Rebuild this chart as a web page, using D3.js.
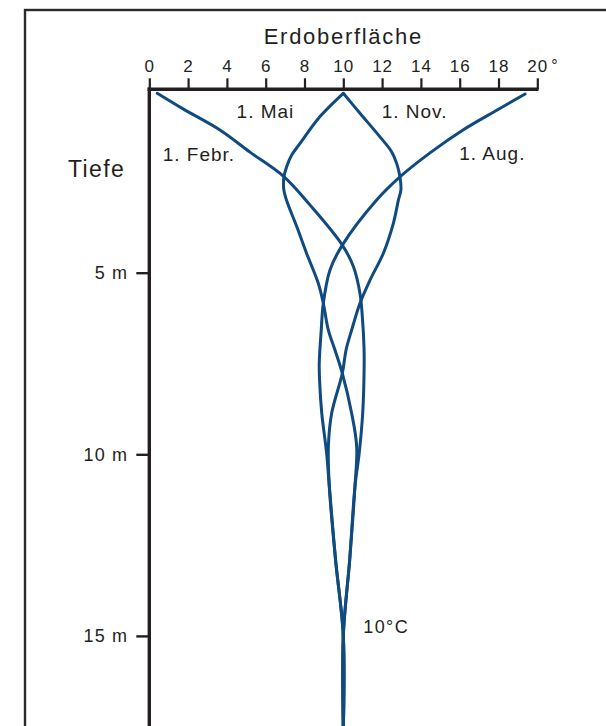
<!DOCTYPE html>
<html>
<head>
<meta charset="utf-8">
<script src="https://cdn.jsdelivr.net/npm/d3@7"></script>
<style>
  html, body { margin: 0; padding: 0; background: #fff; overflow: hidden; }
  svg { display: block; }
  text { font-family: "Liberation Sans", Arial, Helvetica, sans-serif; fill: #231f20; }
</style>
</head>
<body>
<svg id="chart" width="606" height="726"></svg>
<script>
// Temperature (°C) and depth (m) profiles of the ground on four dates
const tempTicks = [0, 2, 4, 6, 8, 10, 12, 14, 16, 18, 20];
const depthTicks = [5, 10, 15];

// [temperature, depth]
const profileFeb = [
  [0.41, 0.06], [1.74, 0.49], [3.64, 1.07], [5.19, 1.68], [6.95, 2.36],
  [8.29, 3.14], [9.95, 4.24], [10.52, 4.83], [10.86, 5.57], [10.98, 6.2],
  [11.07, 7.1], [11.07, 7.77], [11.0, 8.87], [10.82, 9.97], [10.6, 10.89], [10.33, 12.9],
  [10.0, 15.0], [10.0, 17.6]
];
const profileAug = [
  [19.37, 0.08], [17.93, 0.52], [16.17, 1.07], [14.47, 1.70], [12.92, 2.36],
  [11.73, 2.99], [9.95, 4.24], [9.31, 4.93], [8.97, 5.84], [8.86, 6.6],
  [8.76, 7.5], [8.78, 8.0], [8.89, 8.87], [9.14, 9.97], [9.28, 10.89], [9.6, 12.9],
  [10.0, 15.0], [10.0, 17.6]
];
const profileMai = [
  [10.0, 0.06], [8.80, 0.70], [7.77, 1.44], [7.34, 1.76], [7.08, 2.08], [6.94, 2.36],
  [6.93, 2.7], [7.07, 3.0], [7.60, 3.73], [8.11, 4.47], [8.71, 5.29], [8.97, 5.84],
  [9.23, 6.58], [9.57, 7.13], [9.95, 7.77], [10.43, 8.87], [10.69, 9.79], [10.6, 10.89],
  [10.33, 12.9], [10.0, 15.0], [10.0, 17.6]
];
const profileNov = [
  [10.0, 0.06], [10.86, 0.61], [11.89, 1.26], [12.49, 1.67], [12.75, 1.99], [12.92, 2.36],
  [12.97, 2.72], [12.84, 3.0], [12.58, 3.64], [12.06, 4.47], [11.38, 5.2], [10.86, 5.84],
  [10.43, 6.58], [10.14, 7.13], [9.95, 7.77], [9.40, 8.87], [9.23, 9.79], [9.28, 10.89],
  [9.6, 12.9], [10.0, 15.0], [10.0, 17.6]
];

const dateLabels = ["1. Febr.", "1. Mai", "1. Nov.", "1. Aug."];
const dateLabelTemps = [0.69, 4.5, 11.98, 15.98];
const dateLabelDepths = [1.92, 0.75, 0.75, 1.90];

const deepTempLabel = "10°C";
const deepTempPos = [11.03, 14.91];

const svg = d3.select("#chart");

// Scales: temperature across the top, depth downward
const x = d3.scaleLinear().domain([0, 20]).range([149.3, 537.3]);
const y = d3.scaleLinear().domain([0, 15]).range([91.1, 635.9]);

const ink = "#231f20";
const curveColor = "#0f4a80";

// Outer frame
svg.append("rect")
  .attr("x", 25).attr("y", 10)
  .attr("width", 640).attr("height", 760)
  .attr("fill", "none").attr("stroke", "#2a2a2a").attr("stroke-width", 2.4);

// Top temperature axis
const axisTop = svg.append("g").attr("transform", `translate(0,${y(0) - 1.8})`);
axisTop.call(d3.axisTop(x).tickValues(tempTicks).tickSize(11).tickPadding(6).tickFormat(d3.format("d")));
axisTop.select(".domain").remove();
axisTop.selectAll(".tick line").attr("stroke", ink).attr("stroke-width", 2.2);
axisTop.selectAll(".tick text")
  .attr("fill", ink).attr("font-size", 17).style("letter-spacing", "1px")
  .attr("font-family", null);
axisTop.attr("font-size", 17);
axisTop.append("line")
  .attr("x1", x(0) - 1.7).attr("x2", x(20) + 1.2).attr("y1", 0).attr("y2", 0)
  .attr("stroke", ink).attr("stroke-width", 3.4);

// Degree sign after the last tick label
svg.append("text")
  .attr("x", x(20) + 14).attr("y", 71)
  .style("font-size", "16px")
  .text("°");

// Axis title
svg.append("text")
  .attr("x", x(10)).attr("y", 44)
  .attr("text-anchor", "middle")
  .style("font-size", "22px").style("letter-spacing", "1.7px")
  .text("Erdoberfläche");

// Left depth axis
const axisLeft = svg.append("g").attr("transform", `translate(${x(0)},0)`);
axisLeft.call(d3.axisLeft(y).tickValues(depthTicks).tickSize(13).tickPadding(8).tickFormat(d => d + " m"));
axisLeft.attr("font-size", 18);
axisLeft.select(".domain").remove();
axisLeft.selectAll(".tick line").attr("stroke", ink).attr("stroke-width", 2.4);
axisLeft.selectAll(".tick text")
  .attr("fill", ink).attr("font-size", 18).style("letter-spacing", "1.2px")
  .attr("font-family", null);
axisLeft.append("line")
  .attr("x1", 0).attr("x2", 0).attr("y1", y(0) - 3.5).attr("y2", 740)
  .attr("stroke", ink).attr("stroke-width", 3.4);

svg.append("text")
  .attr("x", 68).attr("y", 177)
  .style("font-size", "23px").style("letter-spacing", "1.4px")
  .text("Tiefe");

// Temperature profiles
const line = d3.line()
  .x(p => x(p[0]))
  .y(p => y(p[1]))
  .curve(d3.curveCatmullRom.alpha(0.5));

[profileFeb, profileMai, profileNov, profileAug].forEach(profile => {
  svg.append("path")
    .datum(profile)
    .attr("d", line)
    .attr("fill", "none")
    .attr("stroke", curveColor)
    .attr("stroke-width", 3)
    .attr("stroke-linejoin", "round")
    .attr("stroke-linecap", "round");
});

// Date labels
dateLabels.forEach((label, i) => {
  svg.append("text")
    .attr("x", x(dateLabelTemps[i]))
    .attr("y", y(dateLabelDepths[i]))
    .style("font-size", "19px").style("letter-spacing", "1px")
    .text(label);
});

svg.append("text")
  .attr("x", x(deepTempPos[0]))
  .attr("y", y(deepTempPos[1]))
  .style("font-size", "18px").style("letter-spacing", "1.4px")
  .text(deepTempLabel);
</script>
</body>
</html>
